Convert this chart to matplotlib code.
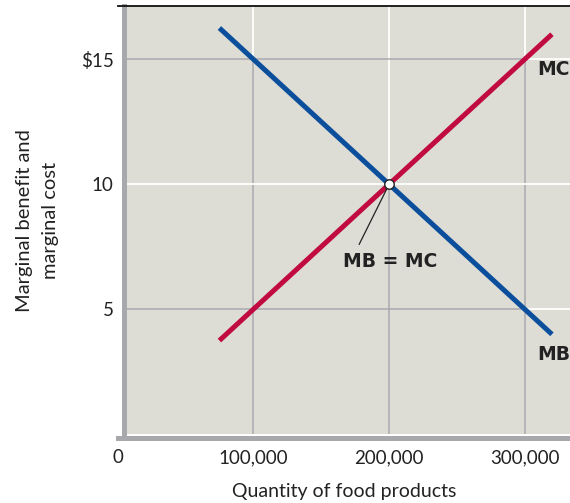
import matplotlib
matplotlib.use("Agg")
import matplotlib.pyplot as plt

plt.rcParams['font.family'] = ['Lato', 'DejaVu Sans']

# data
quantity = [75000, 200000, 320000]
mb = [16.25, 10.0, 4.0]
mc = [3.75, 10.0, 16.0]
eq_q, eq_p = 200000, 10.0

x_ticks = [0, 100000, 200000, 300000]
x_labels = ["0", "100,000", "200,000", "300,000"]
y_ticks = [5, 10, 15]
y_labels = ["5", "10", "$15"]

bg = "#dddcd5"
grid_gray = "#a9aaae"
spine_gray = "#a7a8ac"
blue = "#0b4f9c"
red = "#c00a40"
ink = "#222222"

lab_font = ['DejaVu Sans']

fig = plt.figure(figsize=(5.7, 5.03), dpi=100)
W, H = 570, 503
ax = fig.add_axes([117.6 / W, (H - 434.3) / H, (570 - 117.6) / W, (434.3 - 6) / H])
ax.set_xlim(0, 333300)
ax.set_ylim(0, 17.13)

ax.set_facecolor("white")
ax.axvspan(4350, 340000, color=bg, zorder=0, lw=0)

top = 17.13
right = 333300
# guide lines: grey up to the curve, white beyond
ax.vlines(100000, 0, 15, color=grid_gray, lw=1.1, zorder=1)
ax.vlines(100000, 15, top, color="white", lw=1.3, zorder=1)
ax.vlines(200000, 0, 10, color=grid_gray, lw=1.1, zorder=1)
ax.vlines(200000, 10, top, color="white", lw=1.3, zorder=1)
ax.vlines(300000, 0, 15, color=grid_gray, lw=1.1, zorder=1)
ax.vlines(300000, 15, top, color="white", lw=1.3, zorder=1)
ax.hlines(15, 4350, 300000, color=grid_gray, lw=1.1, zorder=1)
ax.hlines(15, 300000, right, color="white", lw=1.3, zorder=1)
ax.hlines(10, 4350, right, color="white", lw=1.3, zorder=1)
ax.hlines(5, 4350, 300000, color=grid_gray, lw=1.1, zorder=1)
ax.hlines(5, 300000, right, color="white", lw=1.3, zorder=1)

ax.plot([quantity[0], quantity[-1]], [mb[0], mb[-1]], color=blue, lw=3.6,
        solid_capstyle="butt", zorder=3)
ax.plot([quantity[0], quantity[-1]], [mc[0], mc[-1]], color=red, lw=3.6,
        solid_capstyle="butt", zorder=3)

ax.plot([eq_q, 178000], [eq_p, 7.6], color=ink, lw=0.9, zorder=4)
ax.plot([eq_q], [eq_p], "o", ms=6.8, mfc="white", mec=ink, mew=1.0, zorder=5)
ax.text(201000, 6.93, "MB = MC", ha="center", va="center", fontsize=13.5,
        fontweight="bold", color=ink, family=lab_font)
ax.text(309000, 14.6, "MC", ha="left", va="center", fontsize=13.5,
        fontweight="bold", color=ink, family=lab_font)
ax.text(309000, 3.2, "MB", ha="left", va="center", fontsize=13.5,
        fontweight="bold", color=ink, family=lab_font)

ax.set_xticks(x_ticks)
ax.set_xticklabels(x_labels)
ax.set_yticks(y_ticks)
ax.set_yticklabels(y_labels)
ax.get_xticklabels()[0].set_ha("right")
ax.tick_params(length=0, labelsize=13.5, colors=ink)
ax.tick_params(axis="x", pad=8)
ax.tick_params(axis="y", pad=7)

for s in ax.spines.values():
    s.set_visible(False)
ax.spines["left"].set_visible(True)
ax.spines["left"].set_position(("data", 4350))
ax.spines["left"].set_color(spine_gray)
ax.spines["left"].set_linewidth(3.6)
ax.spines["bottom"].set_visible(True)
ax.spines["bottom"].set_position(("outward", 2.5))
ax.spines["bottom"].set_color(spine_gray)
ax.spines["bottom"].set_linewidth(3.6)
ax.spines["top"].set_visible(True)
ax.spines["top"].set_color("#111111")
ax.spines["top"].set_linewidth(1.3)

ax.set_xlabel("Quantity of food products", fontsize=14, color=ink, labelpad=12)
ax.set_ylabel("Marginal benefit and\nmarginal cost", fontsize=14.5, color=ink,
              labelpad=16, linespacing=1.65)

fig.savefig("out.png", dpi=100)
